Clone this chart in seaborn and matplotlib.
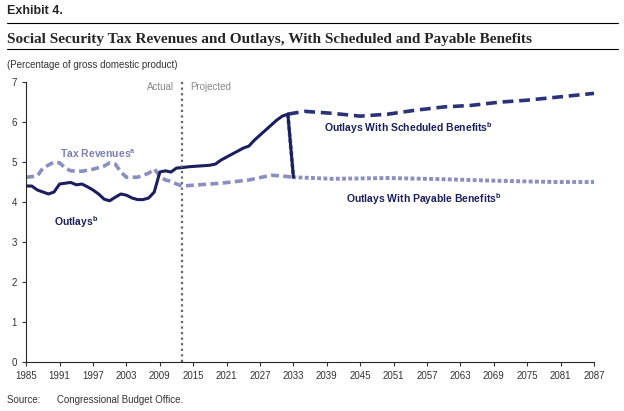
import numpy as np
import matplotlib
matplotlib.use('Agg')
import matplotlib.pyplot as plt
import seaborn as sns
import pandas as pd

# values (percent of GDP)
outlay_years = [1985, 1986, 1987, 1988, 1989, 1990, 1991, 1992, 1993, 1994, 1995, 1996, 1997, 1998,
                1999, 2000, 2001, 2002, 2003, 2004, 2005, 2006, 2007, 2008, 2009, 2010, 2011, 2012,
                2013, 2014, 2016, 2018, 2019, 2020, 2022, 2024, 2025, 2026, 2028, 2030, 2031, 2032]
outlay_vals = [4.4, 4.4, 4.3, 4.25, 4.2, 4.25, 4.45, 4.47, 4.49, 4.43, 4.45, 4.38, 4.3, 4.2,
               4.07, 4.03, 4.12, 4.2, 4.17, 4.1, 4.06, 4.06, 4.1, 4.25, 4.75, 4.78, 4.75, 4.85,
               4.86, 4.88, 4.9, 4.92, 4.95, 5.05, 5.2, 5.35, 5.4, 5.55, 5.8, 6.05, 6.15, 6.2]
sched_years = [2032, 2035, 2040, 2045, 2050, 2055, 2060, 2065, 2070, 2075, 2080, 2087]
sched_vals = [6.2, 6.27, 6.22, 6.15, 6.2, 6.3, 6.38, 6.42, 6.5, 6.55, 6.62, 6.72]
pay_years = [2032, 2033, 2040, 2050, 2060, 2070, 2080, 2087]
pay_vals = [6.2, 4.62, 4.58, 4.6, 4.57, 4.53, 4.5, 4.5]
tax_years = [1985, 1987, 1988, 1990, 1991, 1992, 1993, 1995, 1997, 1999, 2000, 2001, 2002, 2003,
             2005, 2007, 2008, 2009, 2010, 2011, 2012, 2013, 2015, 2020, 2025, 2029, 2031, 2033]
tax_vals = [4.62, 4.65, 4.85, 5.0, 4.98, 4.85, 4.78, 4.77, 4.82, 4.9, 4.98, 4.95, 4.75, 4.62,
            4.62, 4.72, 4.83, 4.65, 4.55, 4.52, 4.45, 4.4, 4.42, 4.47, 4.55, 4.67, 4.65, 4.62]
xticks = list(range(1985, 2088, 6))

sns.set_style('ticks')
plt.rcParams['font.family'] = ['Liberation Sans', 'DejaVu Sans']

dark = '#1b1f5e'
light = '#8a8fbf'

fig = plt.figure(figsize=(6.24, 4.11), dpi=100)
ax = fig.add_axes([0.042, 0.12, 0.91, 0.68])

sns.lineplot(x=tax_years, y=tax_vals, ax=ax, color=light, lw=2.6, linestyle=(0, (2.2, 1.2)))
sns.lineplot(x=pay_years, y=pay_vals, ax=ax, color=light, lw=2.8, linestyle=(0, (1, 0.6)))
sns.lineplot(x=pay_years[:2], y=pay_vals[:2], ax=ax, color=dark, lw=2.2)
sns.lineplot(x=sched_years, y=sched_vals, ax=ax, color='#2a3278', lw=2.6, linestyle=(0, (3, 1.6)))
sns.lineplot(x=outlay_years, y=outlay_vals, ax=ax, color=dark, lw=2.2)

ax.axvline(2013, color='#666666', lw=1.6, linestyle=(0, (1, 1.5)))
ax.text(2011.5, 7.0, 'Actual', ha='right', va='top', fontsize=7, color='#888888')
ax.text(2014.5, 7.0, 'Projected', ha='left', va='top', fontsize=7, color='#888888')

ax.text(1991, 5.1, 'Tax Revenues$^{\\mathregular{a}}$', fontsize=7.5, color='#7a7fb5', fontweight='bold')
ax.text(1994, 3.4, 'Outlays$^{\\mathregular{b}}$', fontsize=7.5, color=dark, fontweight='bold', ha='center')
ax.text(2038.5, 5.75, 'Outlays With Scheduled Benefits$^{\\mathregular{b}}$', fontsize=7.5, color=dark, fontweight='bold')
ax.text(2042.5, 3.98, 'Outlays With Payable Benefits$^{\\mathregular{b}}$', fontsize=7.5, color=dark, fontweight='bold')

ax.set_xlim(1985, 2087)
ax.set_ylim(0, 7)
ax.set_xticks(xticks)
ax.set_yticks(range(0, 8))
ax.tick_params(labelsize=7, colors='#333333', length=3)
sns.despine(ax=ax)

fig.text(0.012, 0.965, 'Exhibit 4.', fontsize=9, fontweight='bold')
fig.add_artist(plt.Line2D([0.012, 0.99], [0.945, 0.945], color='black', lw=0.8))
fig.text(0.012, 0.895, 'Social Security Tax Revenues and Outlays, With Scheduled and Payable Benefits',
         fontsize=11, fontweight='bold', family='Liberation Serif')
fig.add_artist(plt.Line2D([0.012, 0.99], [0.88, 0.88], color='black', lw=0.8))
fig.text(0.012, 0.835, '(Percentage of gross domestic product)', fontsize=7, color='#333333')
fig.text(0.012, 0.02, 'Source:      Congressional Budget Office.', fontsize=7, color='#333333')

fig.savefig('out.png', dpi=100)
